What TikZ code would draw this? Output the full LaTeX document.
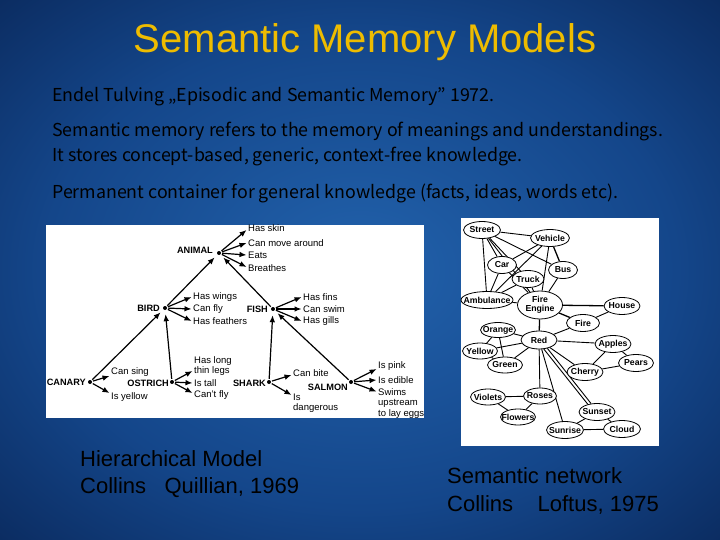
\documentclass[tikz,border=0pt]{standalone}
\usepackage{fontspec}
\setmainfont{Liberation Sans}
\newfontfamily\bodyfont{Noto Sans CJK JP}
\usetikzlibrary{shapes.geometric,arrows.meta,calc}
\pgfdeclarelayer{bglayer}
\pgfdeclarelayer{edgelayer}
\pgfsetlayers{bglayer,edgelayer,main}
\definecolor{bgouter}{RGB}{7,32,78}
\definecolor{bgmid}{RGB}{20,70,138}
\definecolor{bginner}{RGB}{34,98,172}
\definecolor{titlegold}{RGB}{238,188,0}
\pgfdeclareradialshading{slidebg}{\pgfpoint{0bp}{0bp}}{color(0bp)=(bginner); color(22bp)=(bgmid); color(42bp)=(bgouter); color(50bp)=(bgouter)}
\begin{document}
\begin{tikzpicture}[x=1pt,y=-1pt,
  bodytext/.style={anchor=west,inner sep=0pt,font=\bodyfont\fontsize{17.8}{21}\selectfont,text=black},
  captext/.style={anchor=west,inner sep=0pt,font=\fontsize{22}{26}\selectfont,text=black},
  hdot/.style={circle,fill=black,inner sep=0pt,minimum size=4pt},
  hcat/.style={font=\bfseries\fontsize{9.2}{10}\selectfont,inner sep=1pt,anchor=east},
  hprop/.style={font=\fontsize{9.5}{10.5}\selectfont,inner sep=1.5pt,anchor=west,align=left},
  harrow/.style={-{Latex[length=7pt,width=5.6pt]},line width=1.2pt,shorten <=1pt},
  hlink/.style={-{Latex[length=7pt,width=5.6pt]},line width=1.2pt,shorten >=4pt,shorten <=1pt},
  net/.style={ellipse,draw,line width=0.8pt,fill=white,font=\bfseries\fontsize{8.7}{9.4}\selectfont,
    inner xsep=-6pt,inner ysep=0.3pt,minimum height=17pt,minimum width=#1},
  net/.default=35pt,
  netedge/.style={line width=0.9pt},
]
\begin{pgfonlayer}{bglayer}
  \shade[shading=slidebg] (0,0) rectangle (720,540);
  \fill[white] (46,225) rectangle (424,418);
  \fill[white] (461,218) rectangle (659,446);
\end{pgfonlayer}
\useasboundingbox (0,0) rectangle (720,540);

% title and text
\node[font=\fontsize{40}{48}\selectfont,text=titlegold] (title) at (365,42) {Semantic Memory Models};
\node[bodytext] (l1) at (52,97) {Endel Tulving „Episodic and Semantic Memory” 1972.};
\node[bodytext] (l2) at (52,132) {Semantic memory refers to the memory of meanings and understandings.};
\node[bodytext] (l3) at (52,157) {It stores concept-based, generic, context-free knowledge.};
\node[bodytext] (l4) at (52,193) {Permanent container for general knowledge (facts, ideas, words etc).};

\node[captext] (c1a) at (80,459) {Hierarchical Model};
\node[captext] (c1b) at (80,488) {Collins\ \ \ Quillian, 1969};
\node[captext] (c2a) at (447,476) {Semantic network};
\node[captext] (c2b) at (447,505) {Collins\ \ \ \ Loftus, 1975};

% ---------- hierarchical model ----------
\node[hdot] (animal) at (219,253) {};
\node[hdot] (bird) at (165,308) {};
\node[hdot] (fish) at (273,309) {};
\node[hdot] (canary) at (90,382) {};
\node[hdot] (ostrich) at (172,382) {};
\node[hdot] (shark) at (269,382) {};
\node[hdot] (salmon) at (351,382) {};

\node[hcat] (lanimal) at (214,250) {ANIMAL};
\node[hcat] (lbird) at (161,308) {BIRD};
\node[hcat] (lfish) at (269,309) {FISH};
\node[hcat] (lcanary) at (87,382) {CANARY};
\node[hcat] (lostrich) at (170,383) {OSTRICH};
\node[hcat] (lshark) at (267,383) {SHARK};
\node[hcat] (lsalmon) at (349,387) {SALMON};

\node[hprop] (a1) at (246.5,228) {Has skin};
\node[hprop] (a2) at (246.5,243) {Can move around};
\node[hprop] (a3) at (246.5,255) {Eats};
\node[hprop] (a4) at (246.5,268) {Breathes};
\node[hprop] (b1) at (191.5,297) {Has wings};
\node[hprop] (b2) at (191.5,309) {Can fly};
\node[hprop] (b3) at (191.5,321) {Has feathers};
\node[hprop] (f1) at (301.5,297) {Has fins};
\node[hprop] (f2) at (301.5,309) {Can swim};
\node[hprop] (f3) at (301.5,321) {Has gills};
\node[hprop] (cp1) at (109.5,372) {Can sing};
\node[hprop] (cp2) at (109.5,397) {Is yellow};
\node[hprop] (o1) at (192.5,366) {Has long\\thin legs};
\node[hprop] (o2) at (192.5,383) {Is tall};
\node[hprop] (o3) at (192.5,395) {Can't fly};
\node[hprop] (s1) at (291.5,373) {Can bite};
\node[hprop] (s2) at (291.5,403) {Is\\dangerous};
\node[hprop] (sa1) at (376.5,366) {Is pink};
\node[hprop] (sa2) at (376.5,380) {Is edible};
\node[hprop] (sa3) at (376.5,403.5) {Swims\\upstream\\to lay eggs};

\draw[harrow] (animal) -- ([yshift=-2pt]a1.west);
\draw[harrow] (animal) -- (a2.west);
\draw[harrow] (animal) -- (a3.west);
\draw[harrow] (animal) -- ([yshift=1pt]a4.west);
\draw[harrow] (bird) -- (b1.west);
\draw[harrow] (bird) -- (b2.west);
\draw[harrow] (bird) -- (b3.west);
\draw[harrow] (fish) -- (f1.west);
\draw[harrow] (fish) -- (f2.west);
\draw[harrow] (fish) -- (f3.west);
\draw[harrow] (canary) -- ([yshift=-4pt]cp1.west);
\draw[harrow] (canary) -- ([yshift=4pt]cp2.west);
\draw[harrow] (ostrich) -- ([yshift=-5pt]o1.west);
\draw[harrow] (ostrich) -- (o2.west);
\draw[harrow] (ostrich) -- ([yshift=2pt]o3.west);
\draw[harrow] (shark) -- ([yshift=-2pt]s1.west);
\draw[harrow] (shark) -- ([yshift=8pt]s2.west);
\draw[harrow] (salmon) -- ([yshift=-3pt]sa1.west);
\draw[harrow] (salmon) -- (sa2.west);
\draw[harrow] (salmon) -- ([yshift=12pt]sa3.west);

\draw[hlink] (bird) -- (animal);
\draw[hlink] (fish) -- (animal);
\draw[hlink] (canary) -- (bird);
\draw[hlink] (ostrich) -- (bird);
\draw[hlink] (shark) -- (fish);
\draw[hlink] (salmon) -- (fish);

% ---------- semantic network ----------
\node[net=37pt] (street) at (482,230) {Street};
\node[net=39pt] (vehicle) at (550,238) {Vehicle};
\node[net=29pt] (car) at (502,265) {Car};
\node[net=32pt] (truck) at (528,279) {Truck};
\node[net=29pt] (bus) at (563,270) {Bus};
\node[net=52pt] (ambulance) at (487,300) {Ambulance};
\node[net=45pt,minimum height=28pt,align=center,inner ysep=-2pt] (fireengine) at (540,305) {Fire\\Engine};
\node[net=36pt] (house) at (622,306) {House};
\node[net=33pt] (fire) at (583,323) {Fire};
\node[net=35pt,minimum height=15pt] (orange) at (498,330) {Orange};
\node[net=36pt,minimum height=18pt] (red) at (539,340) {Red};
\node[net=35pt,minimum height=16pt] (yellow) at (480,351) {Yellow};
\node[net=35pt,minimum height=16pt] (green) at (505,365) {Green};
\node[net=35pt,minimum height=16pt] (violets) at (488,397) {Violets};
\node[net=33pt,minimum height=16pt] (roses) at (540,396) {Roses};
\node[net=35pt,minimum height=16pt] (flowers) at (518,417) {Flowers};
\node[net=37pt] (sunrise) at (565,430) {Sunrise};
\node[net=36pt] (sunset) at (597,412) {Sunset};
\node[net=37pt] (cloud) at (622,429) {Cloud};
\node[net=36pt] (apples) at (613,344) {Apples};
\node[net=35pt] (pears) at (636,363) {Pears};
\node[net=36pt] (cherry) at (585,372) {Cherry};

\begin{pgfonlayer}{edgelayer}
\draw[netedge] (street) -- (vehicle);
\draw[netedge] (street) -- (bus);
\draw[netedge] (street) -- (car);
\draw[netedge] (street) -- (truck);
\draw[netedge] (street) -- (ambulance);
\draw[netedge] (street) -- (fireengine);
\draw[netedge] (vehicle) -- (car);
\draw[netedge] (vehicle) -- (ambulance);
\draw[netedge] (vehicle) -- (fireengine);
\draw[netedge,line width=1.3pt] (vehicle) -- (bus);
\draw[netedge] (car) -- (ambulance);
\draw[netedge] (car) -- (fireengine);
\draw[netedge] (truck) -- (ambulance);
\draw[netedge] (truck) -- (fireengine);
\draw[netedge] (bus) -- (fireengine);
\draw[netedge] (ambulance) -- (fireengine);
\draw[netedge,line width=1.3pt] (fireengine) -- (house);
\draw[netedge,line width=1.3pt] (fireengine) -- (fire);
\draw[netedge] (fire) -- (house);
\draw[netedge,line width=1.3pt] (fireengine) -- (red);
\draw[netedge] (red) -- (fire);
\draw[netedge] (red) -- (orange);
\draw[netedge] (red) -- (yellow);
\draw[netedge] (red) -- (green);
\draw[netedge] (red) -- (apples);
\draw[netedge] (red) -- (cherry);
\draw[netedge] (red) -- (roses);
\draw[netedge] (red.-62) -- (sunset.140);
\draw[netedge] (red.-45) -- (sunset.125);
\draw[netedge] (red) -- (sunrise);
\draw[netedge] (orange) -- (yellow);
\draw[netedge] (orange) -- (green);
\draw[netedge] (yellow) -- (green);
\draw[netedge] (apples) -- (cherry);
\draw[netedge] (apples) -- (pears);
\draw[netedge] (cherry) -- (pears);
\draw[netedge] (violets) -- (roses);
\draw[netedge] (violets) -- (flowers);
\draw[netedge] (roses) -- (flowers);
\draw[netedge] (sunset) -- (sunrise);
\draw[netedge] (sunset) -- (cloud);
\draw[netedge] (sunrise) -- (cloud);
\end{pgfonlayer}
\end{tikzpicture}
\end{document}
